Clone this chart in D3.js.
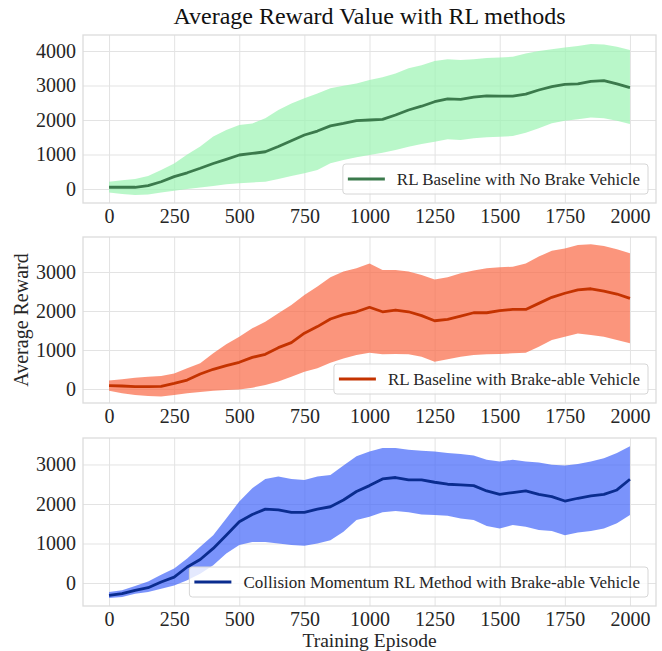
<!DOCTYPE html>
<html>
<head>
<meta charset="utf-8">
<script src="https://cdn.jsdelivr.net/npm/d3@7"></script>
<style>
  body { margin: 0; background: #fff; }
  text { font-family: "Liberation Serif", "Times New Roman", serif; fill: #262626; }
</style>
</head>
<body>
<svg id="canvas" width="662" height="651"></svg>
<script>
// training episodes sampled every 50
var episodes = [0, 50, 100, 150, 200, 250, 300, 350, 400, 450, 500, 550, 600, 650, 700, 750, 800, 850, 900, 950,
  1000, 1050, 1100, 1150, 1200, 1250, 1300, 1350, 1400, 1450, 1500, 1550, 1600, 1650, 1700, 1750, 1800, 1850, 1900, 1950, 2000];

// RL baseline, no brake vehicle
var noBrakeMean = [50, 50, 50, 100, 210, 360, 470, 600, 740, 860, 985, 1030, 1080, 1230, 1400, 1565, 1680, 1830, 1900, 1980,
  2000, 2020, 2145, 2290, 2400, 2530, 2610, 2600, 2660, 2700, 2690, 2690, 2750, 2870, 2965, 3035, 3045, 3120, 3140, 3045, 2940];
var noBrakeHigh = [210, 250, 290, 380, 550, 740, 1000, 1230, 1520, 1710, 1855, 1900, 2050, 2290, 2480, 2630, 2770, 2920, 2995, 3060,
  3160, 3240, 3350, 3500, 3590, 3710, 3760, 3740, 3760, 3800, 3810, 3835, 3930, 4000, 4050, 4100, 4145, 4200, 4190, 4125, 4030];
var noBrakeLow = [-100, -145, -175, -160, -100, -50, 0, 40, 90, 135, 165, 190, 210, 290, 375, 455, 550, 745, 840, 920,
  985, 1050, 1130, 1225, 1305, 1370, 1440, 1420, 1470, 1500, 1515, 1535, 1630, 1760, 1905, 1980, 2020, 2075, 2050, 1980, 1885];

// RL baseline, brake-able vehicle
var brakeMean = [85, 77, 60, 60, 68, 145, 230, 385, 505, 600, 685, 810, 890, 1060, 1190, 1430, 1600, 1795, 1905, 1980,
  2095, 1980, 2025, 1980, 1880, 1750, 1785, 1870, 1955, 1955, 2010, 2040, 2040, 2195, 2350, 2455, 2540, 2570, 2510, 2435, 2325];
var brakeHigh = [215, 250, 290, 315, 335, 400, 530, 660, 915, 1145, 1340, 1555, 1725, 1940, 2155, 2410, 2625, 2865, 3010, 3095,
  3220, 3050, 3050, 3010, 2925, 2810, 2865, 2965, 3035, 3095, 3120, 3135, 3220, 3395, 3545, 3605, 3690, 3710, 3665, 3580, 3480];
var brakeLow = [-45, -110, -155, -180, -195, -155, -110, -75, -45, -25, -10, 35, 100, 190, 315, 445, 530, 675, 785, 870,
  930, 890, 900, 890, 830, 700, 760, 830, 870, 890, 900, 915, 930, 1085, 1255, 1340, 1425, 1385, 1340, 1255, 1170];

// collision momentum RL method, brake-able vehicle
var momentumMean = [-315, -270, -185, -120, 25, 150, 405, 595, 875, 1210, 1550, 1735, 1870, 1850, 1790, 1790, 1870, 1930, 2100, 2315,
  2465, 2635, 2670, 2610, 2610, 2550, 2500, 2485, 2465, 2330, 2245, 2290, 2330, 2245, 2185, 2075, 2145, 2205, 2245, 2355, 2625];
var momentumHigh = [-230, -185, -75, 40, 210, 365, 620, 915, 1210, 1635, 2060, 2400, 2635, 2695, 2635, 2610, 2695, 2735, 2975, 3205,
  3330, 3415, 3415, 3375, 3350, 3330, 3290, 3265, 3230, 3120, 3075, 3120, 3075, 3050, 2990, 2975, 3010, 3075, 3160, 3290, 3460];
var momentumLow = [-380, -355, -270, -230, -145, -60, 70, 235, 450, 745, 960, 1040, 1040, 1000, 960, 940, 1000, 1085, 1295, 1595,
  1680, 1790, 1820, 1790, 1735, 1720, 1705, 1635, 1595, 1440, 1380, 1465, 1425, 1340, 1315, 1210, 1280, 1315, 1380, 1510, 1720];

var xTicks = [0, 250, 500, 750, 1000, 1250, 1500, 1750, 2000];
var yTicksTop = [0, 1000, 2000, 3000, 4000];
var yTicksLower = [0, 1000, 2000, 3000];
var seriesNames = ['RL Baseline with No Brake Vehicle', 'RL Baseline with Brake-able Vehicle',
  'Collision Momentum RL Method with Brake-able Vehicle'];

var canvas = d3.select('#canvas');
var width = +canvas.attr('width');

var margin = { left: 83, right: 6 };
var xDomain = [-100, 2100];
var xScale = d3.scaleLinear().domain(xDomain).range([margin.left, width - margin.right]);

// one entry per subplot
var panels = [
  { name: seriesNames[0], mean: noBrakeMean, low: noBrakeLow, high: noBrakeHigh, yTicks: yTicksTop,
    top: 35, bottom: 203, yDomain: [-406, 4464], fill: 'rgb(155,243,178)', line: '#3b7a4c' },
  { name: seriesNames[1], mean: brakeMean, low: brakeLow, high: brakeHigh, yTicks: yTicksLower,
    top: 237, bottom: 403, yDomain: [-359, 3897], fill: 'rgb(249,104,69)', line: '#c43300' },
  { name: seriesNames[2], mean: momentumMean, low: momentumLow, high: momentumHigh, yTicks: yTicksLower,
    top: 438, bottom: 606, yDomain: [-582, 3670], fill: 'rgb(65,101,249)', line: '#0a2c8f' }
];

var gridColor = '#e3e3e3';

panels.forEach(function(p) {
  var yScale = d3.scaleLinear().domain(p.yDomain).range([p.bottom, p.top]);
  var g = canvas.append('g');

  // grid lines through the axis generators
  g.append('g')
    .attr('transform', 'translate(0,' + p.bottom + ')')
    .call(d3.axisBottom(xScale).tickValues(xTicks).tickSize(-(p.bottom - p.top)).tickFormat(''))
    .call(function(s) { s.select('.domain').remove(); })
    .selectAll('line').attr('stroke', gridColor).attr('stroke-width', 1);
  g.append('g')
    .attr('transform', 'translate(' + margin.left + ',0)')
    .call(d3.axisLeft(yScale).tickValues(p.yTicks).tickSize(-(width - margin.right - margin.left)).tickFormat(''))
    .call(function(s) { s.select('.domain').remove(); })
    .selectAll('line').attr('stroke', gridColor).attr('stroke-width', 1);

  // spread band
  var band = d3.area()
    .x(function(d, i) { return xScale(episodes[i]); })
    .y0(function(d, i) { return yScale(p.low[i]); })
    .y1(function(d, i) { return yScale(p.high[i]); });
  g.append('path')
    .datum(p.mean)
    .attr('d', band)
    .style('fill', p.fill)
    .style('fill-opacity', 0.7)
    .style('stroke', 'none');

  // mean line
  var meanLine = d3.line()
    .x(function(d, i) { return xScale(episodes[i]); })
    .y(function(d) { return yScale(d); });
  g.append('path')
    .datum(p.mean)
    .attr('d', meanLine)
    .style('fill', 'none')
    .style('stroke', p.line)
    .style('stroke-width', 2.8)
    .style('stroke-linejoin', 'round');

  // frame
  g.append('rect')
    .attr('x', margin.left).attr('y', p.top)
    .attr('width', width - margin.right - margin.left).attr('height', p.bottom - p.top)
    .style('fill', 'none').style('stroke', '#dcdcdc').style('stroke-width', 1.3);

  // tick labels
  var xAxis = d3.axisBottom(xScale).tickValues(xTicks).tickSize(0).tickPadding(6).tickFormat(d3.format('d'));
  var xa = g.append('g').attr('transform', 'translate(0,' + p.bottom + ')').call(xAxis);
  xa.select('.domain').remove();
  xa.selectAll('text').style('font-size', '20px').attr('fill', '#262626');

  var yAxis = d3.axisLeft(yScale).tickValues(p.yTicks).tickSize(0).tickPadding(7).tickFormat(d3.format('d'));
  var ya = g.append('g').attr('transform', 'translate(' + margin.left + ',0)').call(yAxis);
  ya.select('.domain').remove();
  ya.selectAll('text').style('font-size', '20px').attr('fill', '#262626');

  // legend, lower right
  var lg = g.append('g');
  var box = lg.append('rect');
  var label = lg.append('text').text(p.name).style('font-size', '17px');
  var textLen = label.node().getComputedTextLength();
  var boxRight = width - margin.right - 8;
  var boxBottom = p.bottom - 9;
  var boxH = 30;
  var boxW = 5 + 37 + 12 + textLen + 8;
  var boxX = boxRight - boxW;
  box.attr('x', boxX).attr('y', boxBottom - boxH).attr('width', boxW).attr('height', boxH)
    .attr('rx', 3)
    .style('fill', 'white').style('fill-opacity', 0.8)
    .style('stroke', '#d6d6d6').style('stroke-width', 1);
  lg.append('line')
    .attr('x1', boxX + 5).attr('x2', boxX + 42)
    .attr('y1', boxBottom - boxH / 2).attr('y2', boxBottom - boxH / 2)
    .style('stroke', p.line).style('stroke-width', 2.8);
  label.attr('x', boxX + 54).attr('y', boxBottom - boxH / 2).attr('dy', '0.35em');
});

// titles
canvas.append('text')
  .attr('x', (margin.left + width - margin.right) / 2).attr('y', 24)
  .attr('text-anchor', 'middle').style('font-size', '24px').style('fill', '#111')
  .text('Average Reward Value with RL methods');

canvas.append('text')
  .attr('transform', 'translate(28,' + ((panels[1].top + panels[1].bottom) / 2) + ') rotate(-90)')
  .attr('text-anchor', 'middle').style('font-size', '20px')
  .text('Average Reward');

canvas.append('text')
  .attr('x', (margin.left + width - margin.right) / 2).attr('y', 646.5)
  .attr('text-anchor', 'middle').style('font-size', '19.5px')
  .text('Training Episode');
</script>
</body>
</html>
